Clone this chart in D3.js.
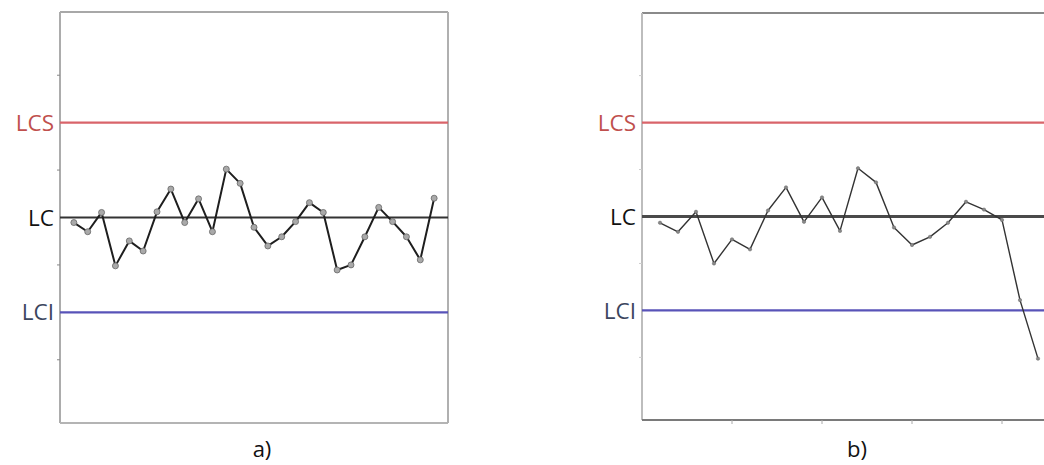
<!DOCTYPE html>
<html>
<head>
<meta charset="utf-8">
<script src="https://cdn.jsdelivr.net/npm/d3@7"></script>
<style>
  html, body { margin: 0; padding: 0; background: #fff; }
  svg { display: block; }
  text { font-family: "Open Sans", "Liberation Sans", sans-serif; }
</style>
</head>
<body>
<svg id="chart" width="1044" height="465"></svg>
<script>
// Control-chart samples, in sigma units around the centre line
const samplesA = [-0.16, -0.45, 0.16, -1.53, -0.74, -1.06, 0.18, 0.90, -0.16, 0.59,
                  -0.45, 1.53, 1.08, -0.31, -0.90, -0.61, -0.13, 0.47, 0.16, -1.66,
                  -1.50, -0.61, 0.32, -0.13, -0.61, -1.34, 0.61];
const samplesB = [-0.20, -0.49, 0.15, -1.50, -0.73, -1.05, 0.19, 0.93, -0.17, 0.61,
                  -0.46, 1.54, 1.09, -0.35, -0.91, -0.65, -0.20, 0.47, 0.22, -0.11,
                  -2.67, -4.54];

// Control limits: upper, centre, lower
const limitNames = ["LCS", "LC", "LCI"];
const limitValues = [3, 0, -3];
const minorTicks = [-4.5, -1.5, 1.5, 4.5];
const panelLabels = ["a)", "b)"];
const bottomTicksB = [5, 10, 15, 20];

const svg = d3.select("#chart");

const limitStyle = {
  LCS: { line: "#d9646a", text: "#c0504d", width: 2.4 },
  LC:  { line: "#333333", text: "#111111", width: 2 },
  LCI: { line: "#5853b8", text: "#3c465e", width: 2.4 }
};

function drawPanel(opts) {
  const { data, x, y, label, labelX, variant } = opts;
  const g = svg.append("g");
  const [x0, x1] = x.range();
  const [yb, yt] = y.range();
  const right = Math.min(x1, 1044 + 10);

  // frame
  g.append("line").attr("x1", x0).attr("x2", right).attr("y1", yt).attr("y2", yt)
    .attr("stroke", variant === "a" ? "#a8a8a8" : "#8a8a8a").attr("stroke-width", 2);
  g.append("line").attr("x1", x0).attr("x2", x0).attr("y1", yt).attr("y2", yb)
    .attr("stroke", variant === "a" ? "#acacac" : "#bdbdbd").attr("stroke-width", 2);
  g.append("line").attr("x1", x0).attr("x2", right).attr("y1", yb).attr("y2", yb)
    .attr("stroke", variant === "a" ? "#b4b4b4" : "#7a7a7a").attr("stroke-width", 2);
  if (variant === "a") {
    g.append("line").attr("x1", x1).attr("x2", x1).attr("y1", yt).attr("y2", yb)
      .attr("stroke", "#b0b0b0").attr("stroke-width", 2);
  }

  // small y ticks on the left edge
  g.selectAll(".ytick").data(minorTicks).join("line")
    .attr("x1", x0 - 3).attr("x2", x0)
    .attr("y1", d => y(d)).attr("y2", d => y(d))
    .attr("stroke", variant === "a" ? "#888" : "#ccc").attr("stroke-width", 1);

  // bottom ticks
  if (variant === "b") {
    g.selectAll(".xtick").data(bottomTicksB).join("line")
      .attr("x1", d => x(d)).attr("x2", d => x(d))
      .attr("y1", yb).attr("y2", yb + 4)
      .attr("stroke", "#aaa").attr("stroke-width", 1);
  }

  // control limit lines and labels
  limitNames.forEach((name, i) => {
    const v = limitValues[i];
    const s = limitStyle[name];
    g.append("line")
      .attr("x1", x0).attr("x2", right)
      .attr("y1", y(v)).attr("y2", y(v))
      .attr("stroke", name === "LC" && variant === "b" ? "#4a4a4a" : s.line)
      .attr("stroke-width", name === "LC" && variant === "b" ? 2.8 : s.width);
    g.append("text")
      .attr("x", x0 - 6).attr("y", y(v))
      .attr("dy", "0.36em")
      .attr("text-anchor", "end")
      .attr("font-size", 22.5)
      .attr("fill", s.text)
      .text(name);
  });

  // sample series
  const line = d3.line().x((d, i) => x(i + 1)).y(d => y(d));
  g.append("path").datum(data)
    .attr("d", line)
    .attr("fill", "none")
    .attr("stroke", variant === "a" ? "#1e1e1e" : "#333")
    .attr("stroke-width", variant === "a" ? 2 : 1.4)
    .attr("stroke-linejoin", "round");

  g.selectAll(".pt").data(data).join("circle")
    .attr("cx", (d, i) => x(i + 1))
    .attr("cy", d => y(d))
    .attr("r", variant === "a" ? 3 : 1.7)
    .attr("fill", variant === "a" ? "#a9a9a9" : "#888")
    .attr("stroke", "#666")
    .attr("stroke-width", variant === "a" ? 0.8 : 0.5);

  // panel caption
  svg.append("text")
    .attr("x", labelX).attr("y", 457)
    .attr("text-anchor", "middle")
    .attr("font-size", 22)
    .attr("fill", "#111")
    .text(label);
}

const xA = d3.scaleLinear().domain([0, 28]).range([60, 448]);
const yA = d3.scaleLinear().domain([-6.5, 6.5]).range([423, 12]);
drawPanel({ data: samplesA, x: xA, y: yA, label: panelLabels[0], labelX: 262, variant: "a" });

const xB = d3.scaleLinear().domain([0, 25]).range([642, 1092]);
const yB = d3.scaleLinear().domain([-6.5, 6.5]).range([420, 13]);
drawPanel({ data: samplesB, x: xB, y: yB, label: panelLabels[1], labelX: 857, variant: "b" });
</script>
</body>
</html>
